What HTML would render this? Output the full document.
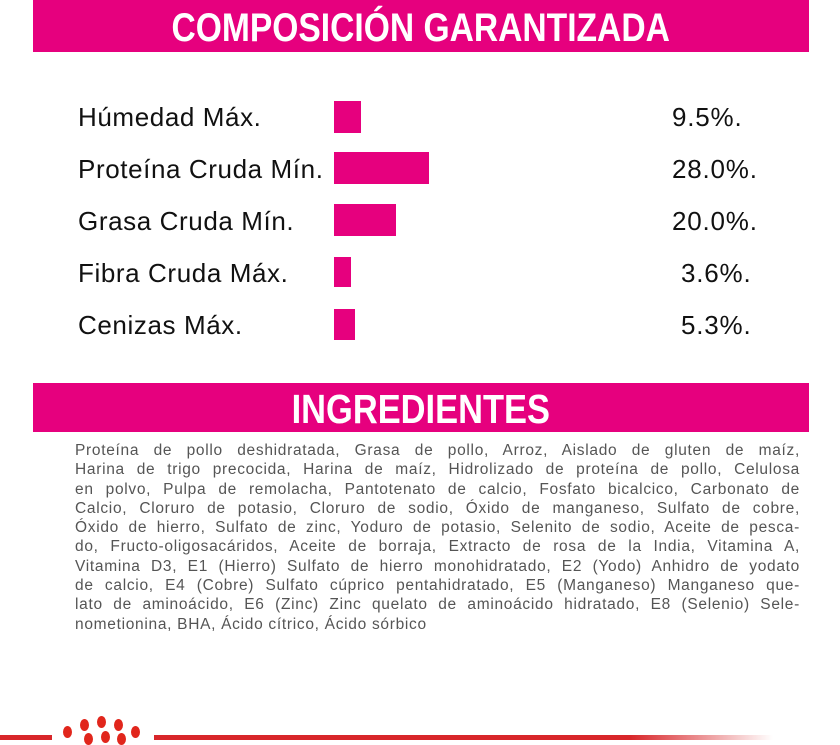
<!DOCTYPE html>
<html><head><meta charset="utf-8"><style>
body{margin:0;width:840px;height:740px;background:#fff;position:relative;overflow:hidden;font-family:"Liberation Sans",sans-serif}
.hdr{position:absolute;left:33px;width:776px;background:#e6007e;color:#fff;text-align:center;font-family:"Liberation Sans",sans-serif;font-weight:bold}
.hdr span{display:inline-block;transform:scaleX(0.84);transform-origin:center}
.lab{position:absolute;left:78px;font-size:26px;letter-spacing:0.6px;color:#111}
.val{position:absolute;font-size:26px;letter-spacing:0.8px;color:#111}
.bar{position:absolute;left:334px;background:#e6007e}
.ing{position:absolute;left:75px;width:725px;top:441px;font-size:15.5px;color:#555;letter-spacing:0.7px;line-height:19.3px}
.ing div{text-align:justify;text-align-last:justify;white-space:nowrap}
.ing div.l{text-align-last:left}
.dot{position:absolute;width:9px;height:12px;border-radius:50%;background:#e1261c}
</style></head><body>
<div class="hdr" style="top:0;height:52px;line-height:56px;font-size:40px"><span>COMPOSICIÓN GARANTIZADA</span></div>
<div class="lab" style="top:102px">Húmedad Máx.</div>
<div class="lab" style="top:154px">Proteína Cruda Mín.</div>
<div class="lab" style="top:206px">Grasa Cruda Mín.</div>
<div class="lab" style="top:258px">Fibra Cruda Máx.</div>
<div class="lab" style="top:310px">Cenizas Máx.</div>
<div class="bar" style="top:101px;width:27px;height:32px"></div>
<div class="bar" style="top:152px;width:95px;height:32px"></div>
<div class="bar" style="top:204px;width:62px;height:32px"></div>
<div class="bar" style="top:257px;width:17px;height:30px"></div>
<div class="bar" style="top:309px;width:21px;height:31px"></div>
<div class="val" style="top:102px;left:672px">9.5%.</div>
<div class="val" style="top:154px;left:672px">28.0%.</div>
<div class="val" style="top:206px;left:672px">20.0%.</div>
<div class="val" style="top:258px;left:681px">3.6%.</div>
<div class="val" style="top:310px;left:681px">5.3%.</div>
<div class="hdr" style="top:383px;height:49px;line-height:52px;font-size:41px"><span>INGREDIENTES</span></div>
<div class="ing">
<div>Proteína de pollo deshidratada, Grasa de pollo, Arroz, Aislado de gluten de maíz,</div>
<div>Harina de trigo precocida, Harina de maíz, Hidrolizado de proteína de pollo, Celulosa</div>
<div>en polvo, Pulpa de remolacha, Pantotenato de calcio, Fosfato bicalcico, Carbonato de</div>
<div>Calcio, Cloruro de potasio, Cloruro de sodio, Óxido de manganeso, Sulfato de cobre,</div>
<div>Óxido de hierro, Sulfato de zinc, Yoduro de potasio, Selenito de sodio, Aceite de pesca-</div>
<div>do, Fructo-oligosacáridos, Aceite de borraja, Extracto de rosa de la India, Vitamina A,</div>
<div>Vitamina D3, E1 (Hierro) Sulfato de hierro monohidratado, E2 (Yodo) Anhidro de yodato</div>
<div>de calcio, E4 (Cobre) Sulfato cúprico pentahidratado, E5 (Manganeso) Manganeso que-</div>
<div>lato de aminoácido, E6 (Zinc) Zinc quelato de aminoácido hidratado, E8 (Selenio) Sele-</div>
<div class="l">nometionina, BHA, Ácido cítrico, Ácido sórbico</div>
</div>
<div style="position:absolute;left:0;top:735px;width:840px;height:5px;background:linear-gradient(to right,#d8262a 0%,#d8262a 75%,#fff 92%)"></div>
<div style="position:absolute;left:52px;top:726px;width:102px;height:14px;background:#fff"></div>
<div class="dot" style="left:63px;top:726px"></div>
<div class="dot" style="left:80px;top:719px"></div>
<div class="dot" style="left:97px;top:716px"></div>
<div class="dot" style="left:114px;top:719px"></div>
<div class="dot" style="left:131px;top:726px"></div>
<div class="dot" style="left:84px;top:733px"></div>
<div class="dot" style="left:101px;top:731px"></div>
<div class="dot" style="left:117px;top:733px"></div>
</body></html>
